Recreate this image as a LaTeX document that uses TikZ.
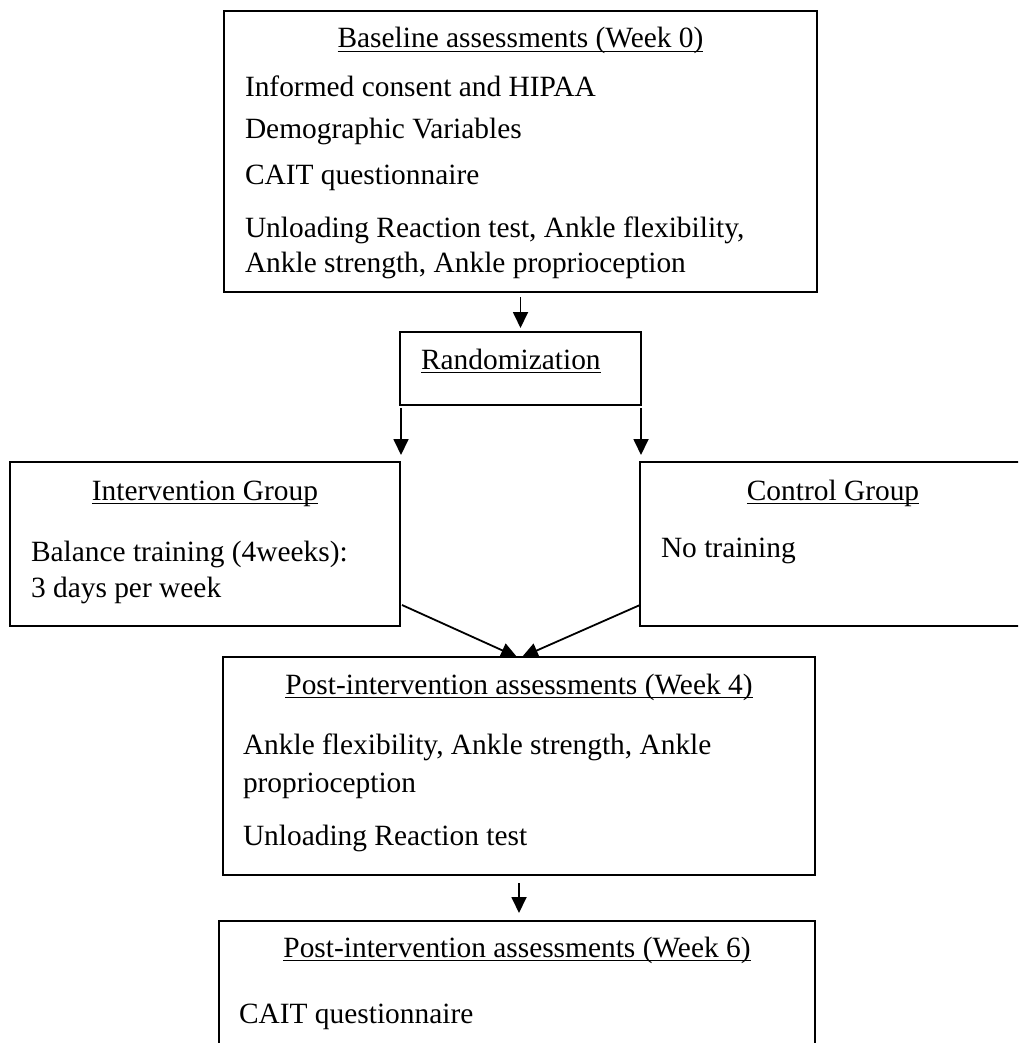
\documentclass[tikz,border=0pt]{standalone}
\usepackage{fontspec}
\setmainfont{Liberation Serif}
\usetikzlibrary{arrows.meta,calc}
\begin{document}
\begin{tikzpicture}[x=1pt,y=-1pt,
  box/.style={draw, line width=2pt, rectangle, inner sep=0pt, outer sep=0pt},
  txt/.style={inner sep=0pt, outer sep=0pt, font=\fontsize{29.4}{35}\selectfont},
  hd/.style={txt, anchor=base},
  ln/.style={txt, anchor=base west},
  uline/.style={line width=1.6pt},
  arr/.style={line width=1.8pt, -{Triangle[width=15pt,length=16pt]}}]
\useasboundingbox (0,0) rectangle (1018,1043);
\clip (0,0) rectangle (1018,1043);

% boxes
\node[box, minimum width=593pt, minimum height=281pt] (b1) at (520.5,151.5) {};
\node[box, minimum width=241pt, minimum height=73pt] (rnd) at (520.5,368.5) {};
\node[box, minimum width=390pt, minimum height=164pt] (ig) at (205,544) {};
\node[box, minimum width=386pt, minimum height=164pt] (cg) at (833,544) {};
\node[box, minimum width=592pt, minimum height=218pt] (b4) at (519,766) {};
\node[box, minimum width=596pt, minimum height=160pt] (b5) at (517,1001) {};

% baseline assessments
\node[hd] (t1) at (520.5,48) {Baseline assessments (Week 0)};
\node[ln] (l11) at (245,97) {Informed consent and HIPAA};
\node[ln] (l12) at (245,139) {Demographic Variables};
\node[ln] (l13) at (245,185) {CAIT questionnaire};
\node[ln] (l14) at (245,237) {Unloading Reaction test, Ankle flexibility,};
\node[ln] (l15) at (245,272) {Ankle strength, Ankle proprioception};

% randomization
\node[ln] (t2) at (421,369) {Randomization};

% groups
\node[hd] (t3) at (205,500) {Intervention Group};
\node[ln] (l31) at (31,561) {Balance training (4weeks):};
\node[ln] (l32) at (31,597) {3 days per week};
\node[hd] (t4) at (833,500) {Control Group};
\node[ln] (l41) at (661,557) {No training};

% week 4
\node[hd] (t5) at (519,694) {Post-intervention assessments (Week 4)};
\node[ln] (l51) at (243,754) {Ankle flexibility, Ankle strength, Ankle};
\node[ln] (l52) at (243,792) {proprioception};
\node[ln] (l53) at (243,845) {Unloading Reaction test};

% week 6
\node[hd] (t6) at (517,957) {Post-intervention assessments (Week 6)};
\node[ln] (l61) at (239,1023) {CAIT questionnaire};

% underlined headings
\foreach \t in {t1,t2,t3,t4,t5,t6}
  \draw[uline] ([yshift=-3.5pt]\t.base west) -- ([yshift=-3.5pt]\t.base east);

% connectors
\draw[arr] ([yshift=-5pt]b1.south) -- ([yshift=4pt]rnd.north);
\draw[arr] ([xshift=1pt,yshift=-3pt]rnd.south west) -- ([xshift=1pt,yshift=7pt]ig.north east);
\draw[arr] ([yshift=-3pt]rnd.south east) -- ([xshift=1pt,yshift=7pt]cg.north west);
\draw[arr] ([xshift=2pt,yshift=21pt]ig.south east) -- ([xshift=-2pt]b4.north);
\draw[arr] ([yshift=21pt]cg.south west) -- ([xshift=3pt]b4.north);
\draw[arr] ([yshift=-8pt]b4.south) -- ($(b4.south |- b5.north)+(0,-8)$);
\end{tikzpicture}
\end{document}
